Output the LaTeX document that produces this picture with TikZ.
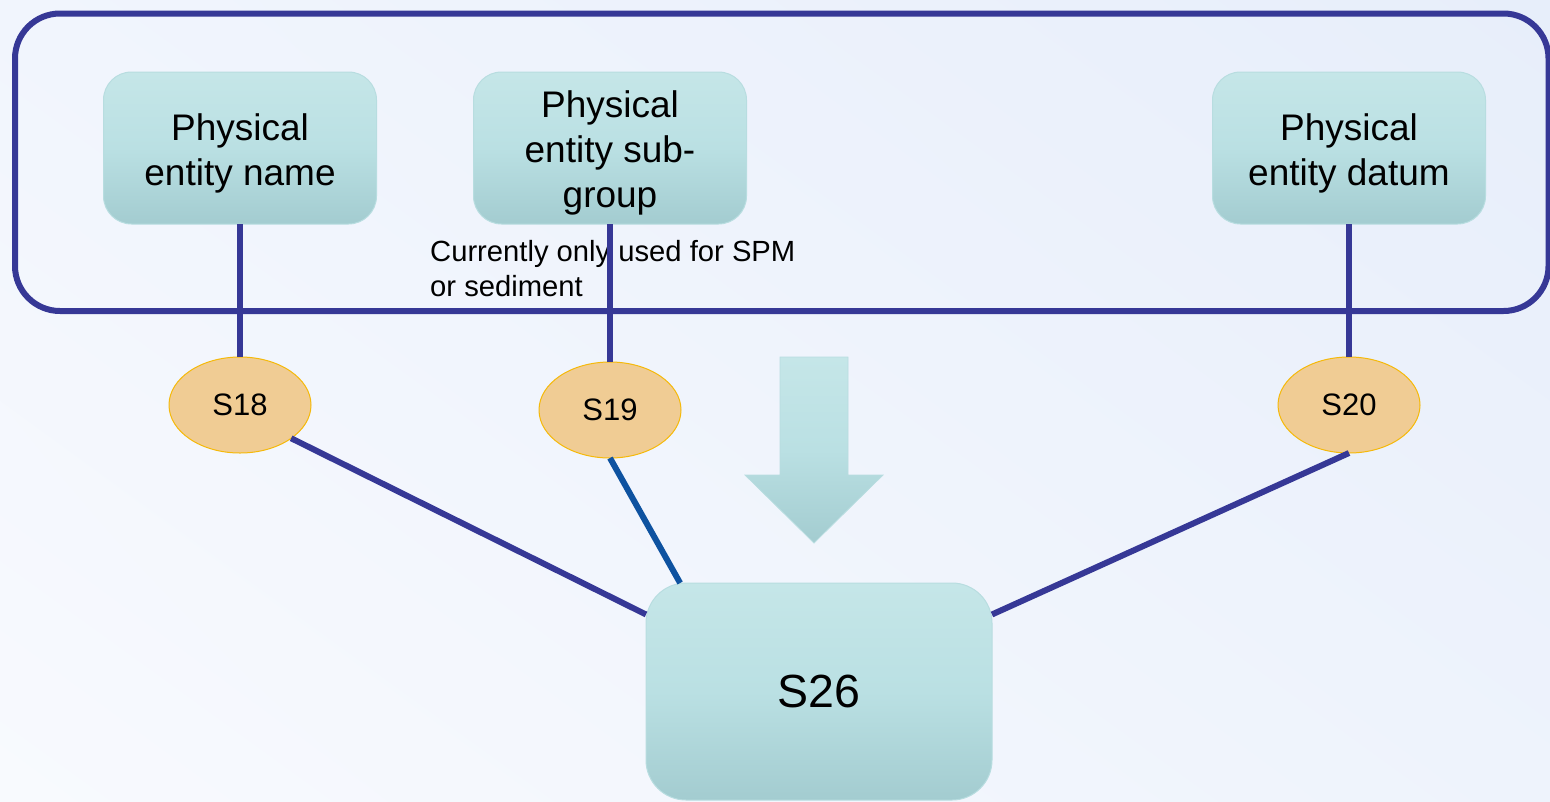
\documentclass[tikz,border=0pt]{standalone}
\usepackage{fontspec}
\setmainfont{Liberation Sans}
\usetikzlibrary{shapes.geometric,shadings}

\definecolor{navy}{RGB}{54,56,150}
\definecolor{linkblue}{RGB}{14,82,160}
\definecolor{tealtop}{RGB}{197,230,232}
\definecolor{tealmid}{RGB}{186,224,227}
\definecolor{tealbot}{RGB}{163,204,208}
\definecolor{tealedge}{RGB}{184,221,224}
\definecolor{sand}{RGB}{240,204,148}
\definecolor{amber}{RGB}{245,185,10}
\definecolor{bgUL}{RGB}{241,245,253}
\definecolor{bgUR}{RGB}{231,238,250}
\definecolor{bgLL}{RGB}{248,250,254}
\definecolor{bgLR}{RGB}{238,243,252}

\tikzset{
  tealfill/.style={shade, top color=tealtop, bottom color=tealbot, middle color=tealmid,
    draw=tealedge, line width=1pt},
  tbox/.style={tealfill, rectangle, rounded corners=28pt, minimum width=273pt,
    minimum height=152pt, inner sep=0pt, outer sep=0pt},
  boxlabel/.style={inner sep=0pt, align=center,
    font=\fontsize{37pt}{45pt}\selectfont},
  bigbox/.style={tealfill, rectangle, rounded corners=40pt, minimum width=346pt,
    minimum height=217pt, inner sep=0pt, outer sep=0pt,
    font=\fontsize{46.5pt}{55pt}\selectfont},
  sbadge/.style={ellipse, minimum width=142pt, minimum height=96pt, inner sep=0pt,
    outer sep=0pt, fill=sand, draw=amber, line width=1pt,
    font=\fontsize{31pt}{37pt}\selectfont},
  frame/.style={rectangle, rounded corners=45pt, draw=navy, line width=6pt,
    minimum width=1533.5pt, minimum height=297.5pt, inner sep=0pt, outer sep=0pt},
  link/.style={draw=navy, line width=6pt},
  bluelink/.style={draw=linkblue, line width=6pt},
  note/.style={anchor=north west, inner sep=0pt, align=left,
    font=\fontsize{29.2pt}{34.3pt}\selectfont}
}

\begin{document}
\begin{tikzpicture}[x=1pt, y=-1pt]
  \useasboundingbox (0,0) rectangle (1550,801);
  \clip (0,0) rectangle (1550,801);

  % page background
  \shade[upper left=bgUL, upper right=bgUR, lower left=bgLL, lower right=bgLR]
    (0,0) rectangle (1550,801);

  % grouping frame
  \node[frame] (group) at (781.75,162.25) {};

  % entity boxes and their captions (set slightly below centre)
  \node[tbox] (b1) at (240,148) {};
  \node[tbox] (b2) at (610,148) {};
  \node[tbox] (b3) at (1349,148) {};
  \node[boxlabel] (b1t) at ([yshift=-5pt]b1.center) {Physical\\entity name};
  \node[boxlabel] (b2t) at ([yshift=-4.5pt]b2.center) {Physical\\entity sub-\\group};
  \node[boxlabel] (b3t) at ([yshift=-5pt]b3.center) {Physical\\entity datum};

  % remark under the sub-group box
  \node[note] (rem) at (430,240.5) {Currently only used for SPM\\or sediment};

  % step badges
  \node[sbadge] (s18) at (240,405) {S18};
  \node[sbadge] (s19) at (610,410) {S19};
  \node[sbadge] (s20) at (1349,405) {S20};

  % result box
  \node[bigbox] (s26) at (819,691.5) {\raisebox{-2pt}{S26}};

  % flow arrow
  \shade[tealfill, line width=0.8pt]
    (780,357) -- (848,357) -- (848,475) -- (883,475) -- (814,543)
    -- (745,475) -- (780,475) -- cycle;

  % connectors
  \draw[link] (b1.south) -- (s18.north);
  \draw[link] (b2.south) -- (s19.north);
  \draw[link] (b3.south) -- (s20.north);
  \draw[link] (s18.-33) -- (s26.156);
  \draw[bluelink] (s19.south) -- (s26.142);
  \draw[link] (s20.south) -- (s26.24);
\end{tikzpicture}
\end{document}
